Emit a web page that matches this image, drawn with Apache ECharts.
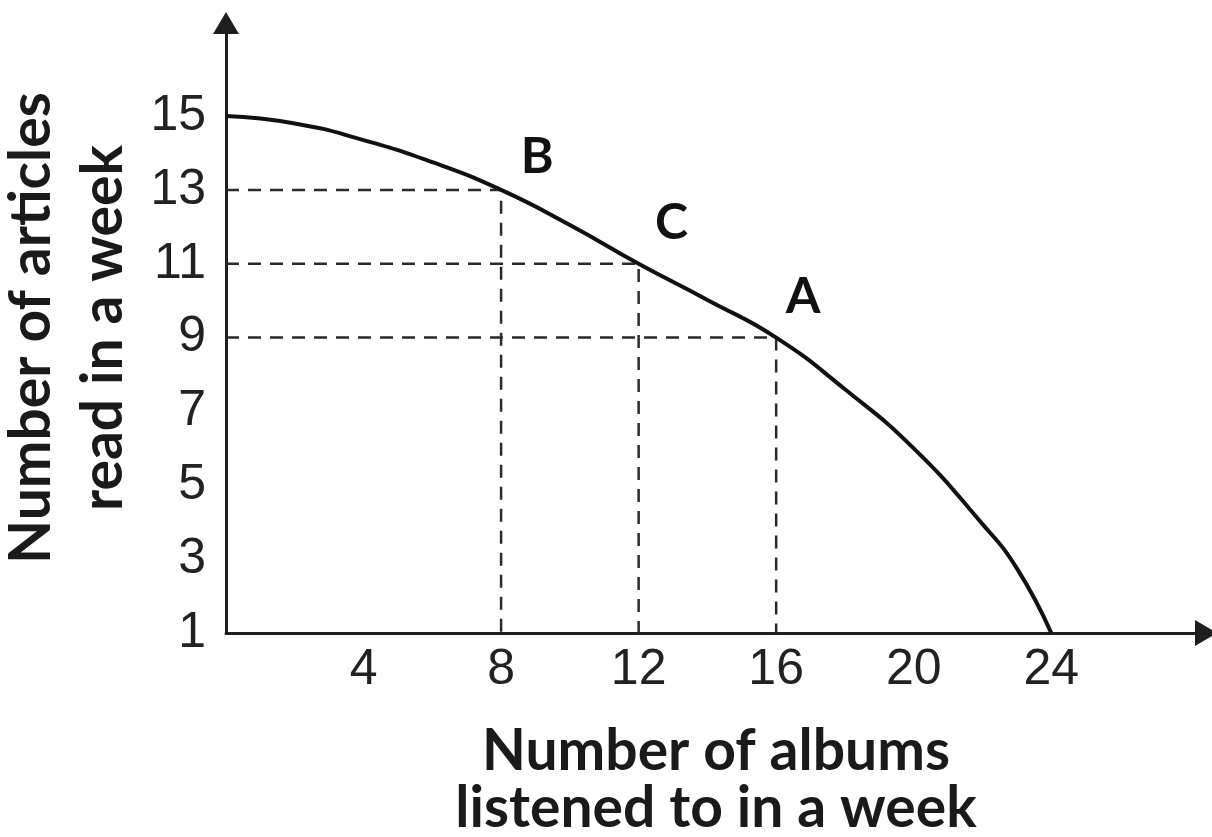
<!DOCTYPE html>
<html>
<head>
<meta charset="utf-8">
<script src="https://cdn.jsdelivr.net/npm/echarts@6/dist/echarts.min.js"></script>
<style>
  html, body { margin: 0; padding: 0; background: #fff; }
  #chart { width: 1212px; height: 837px; }
</style>
</head>
<body>
<div id="chart"></div>
<script>
// 曲线数据 (PPF)
const albums = [0, 2, 4, 6, 8, 10, 12, 14, 16, 18, 20, 22, 23, 24];
const articles = [15, 14.8, 14.35, 13.75, 13, 12.05, 11, 10.02, 9, 7.6, 6.0, 3.95, 2.75, 1];

// 标记点 B, C, A
const pointNames = ['B', 'C', 'A'];
const pointAlbums = [8, 12, 16];
const pointArticles = [13, 11, 9];

// 刻度标签
const xTickLabels = [4, 8, 12, 16, 20, 24];
const yTickLabels = [1, 3, 5, 7, 9, 11, 13, 15];

const yMin = 1;

const chart = echarts.init(document.getElementById('chart'));

const ink = '#1e1e1e';
const labelFont = 'Liberation Sans';
const titleFont = 'Lato';

// 虚线: 从y轴到点，再到x轴
const guideSeries = pointNames.map((n, i) => ({
    type: 'line',
    data: [[0, pointArticles[i]], [pointAlbums[i], pointArticles[i]], [pointAlbums[i], yMin]],
    symbol: 'none',
    silent: true,
    lineStyle: { color: '#2a2a2a', width: 2.5, type: [13, 9] },
    z: 2
}));

const labelOffsets = [[36, -33], [33, -41], [27, -41]];

chart.setOption({
    animation: false,
    grid: { left: 226, right: 6, top: 23, bottom: 204, containLabel: false, outerBoundsMode: 'none' },
    xAxis: {
        type: 'value',
        min: 0,
        max: 28.5,
        interval: 4,
        splitLine: { show: false },
        axisTick: { show: false },
        axisLine: {
            show: true,
            onZero: false,
            symbol: ['none', 'triangle'],
            symbolSize: [26, 22],
            lineStyle: { color: ink, width: 3 }
        },
        axisLabel: {
            margin: 12,
            fontSize: 50,
            fontFamily: labelFont,
            color: '#222',
            formatter: v => xTickLabels.includes(v) ? String(v) : ''
        },
        name: 'Number of albums\nlistened to in a week',
        nameLocation: 'middle',
        nameGap: 90,
        nameTextStyle: { fontSize: 57, fontWeight: 'bold', fontFamily: titleFont, color: '#1a1a1a', lineHeight: 57 }
    },
    yAxis: {
        type: 'value',
        min: yMin,
        max: 17.52,
        interval: 1,
        splitLine: { show: false },
        axisTick: { show: false },
        axisLine: {
            show: true,
            onZero: false,
            symbol: ['none', 'triangle'],
            symbolSize: [26, 22],
            lineStyle: { color: ink, width: 3 }
        },
        axisLabel: {
            margin: 20,
            fontSize: 50,
            fontFamily: labelFont,
            color: '#222',
            formatter: v => yTickLabels.includes(v) ? String(v) : ''
        },
        name: 'Number of articles\nread in a week',
        nameLocation: 'middle',
        nameGap: 84,
        nameRotate: 90,
        nameTextStyle: { fontSize: 57, fontWeight: 'bold', fontFamily: titleFont, color: '#1a1a1a', lineHeight: 72 }
    },
    series: [
        {
            type: 'line',
            data: albums.map((x, i) => [x, articles[i]]),
            smooth: 0.5,
            symbol: 'none',
            lineStyle: { color: '#111', width: 4 },
            z: 3
        },
        ...guideSeries,
        {
            type: 'scatter',
            data: pointNames.map((n, i) => ({ name: n, value: [pointAlbums[i], pointArticles[i]] })),
            symbolSize: 0,
            itemStyle: { opacity: 1 },
            z: 4,
            label: {
                show: true,
                formatter: p => p.name,
                fontSize: 50,
                fontWeight: 'bold',
                fontFamily: titleFont,
                color: '#111',
                opacity: 1
            },
            labelLayout: p => ({ dx: labelOffsets[p.dataIndex][0], dy: labelOffsets[p.dataIndex][1] })
        }
    ]
});
</script>
</body>
</html>
